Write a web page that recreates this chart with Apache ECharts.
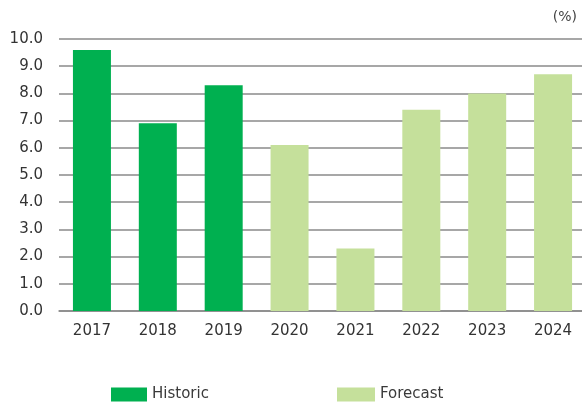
<!DOCTYPE html>
<html>
<head>
<meta charset="utf-8">
<script src="https://cdn.jsdelivr.net/npm/echarts@6/dist/echarts.min.js"></script>
<style>
  html, body { margin: 0; padding: 0; background: #fff; }
  #chart { width: 582px; height: 408px; }
</style>
</head>
<body>
<div id="chart"></div>
<script>
// Annual growth rate (%), historic years followed by forecast years
var years = ['2017', '2018', '2019', '2020', '2021', '2022', '2023', '2024'];
var historic = [9.6, 6.9, 8.3, null, null, null, null, null];
var forecast = [null, null, null, 6.1, 2.3, 7.4, 8.0, 8.7];
var yTicks = { min: 0, max: 10, step: 1 };

var FONT = 'DejaVu Sans';
var chart = echarts.init(document.getElementById('chart'), null, { renderer: 'canvas' });

chart.setOption({
  animation: false,
  backgroundColor: '#ffffff',
  textStyle: { fontFamily: FONT },
  title: {
    text: '(%)',
    right: 0,
    top: 5,
    textStyle: { fontFamily: FONT, fontSize: 14, fontWeight: 'normal', color: '#444' }
  },
  legend: [
    {
      data: [{ name: 'Historic', icon: 'rect' }],
      left: 106, top: 382,
      itemWidth: 36, itemHeight: 14, itemGap: 0,
      textStyle: { fontFamily: FONT, fontSize: 15, color: '#3a3a3a' },
      selectedMode: false
    },
    {
      data: [{ name: 'Forecast', icon: 'rect' }],
      left: 332, top: 382,
      itemWidth: 38, itemHeight: 14, itemGap: 0,
      textStyle: { fontFamily: FONT, fontSize: 15, color: '#3a3a3a' },
      selectedMode: false
    }
  ],
  // plot area runs slightly past the right edge of the canvas
  grid: {
    left: 59, width: 527, top: 39, bottom: 97,
    containLabel: false,
    outerBoundsMode: 'none'
  },
  xAxis: {
    type: 'category',
    data: years,
    axisTick: { show: false },
    axisLine: { lineStyle: { color: '#8a8a8a', width: 1.5 } },
    axisLabel: { margin: 13, fontFamily: FONT, fontSize: 15, color: '#333' }
  },
  yAxis: {
    type: 'value',
    min: yTicks.min,
    max: yTicks.max,
    interval: yTicks.step,
    axisLine: { show: false },
    axisTick: { show: false },
    splitLine: { lineStyle: { color: '#8a8a8a', width: 1.5 } },
    axisLabel: {
      margin: 16, fontFamily: FONT, fontSize: 15, color: '#333',
      formatter: function (v) { return v.toFixed(1); }
    }
  },
  series: [
    {
      name: 'Historic',
      type: 'bar',
      data: historic,
      barWidth: 38,
      barGap: '-100%',
      itemStyle: { color: '#00b050' }
    },
    {
      name: 'Forecast',
      type: 'bar',
      data: forecast,
      barWidth: 38,
      itemStyle: { color: '#c5e09b' }
    }
  ]
});
</script>
</body>
</html>
